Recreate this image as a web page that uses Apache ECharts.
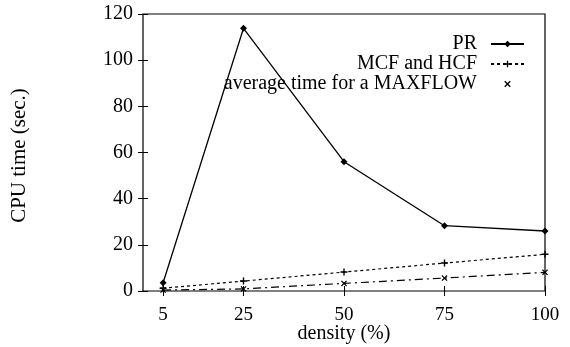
<!DOCTYPE html>
<html>
<head>
<meta charset="utf-8">
<script src="https://cdn.jsdelivr.net/npm/echarts@6/dist/echarts.min.js"></script>
<style>
  html, body { margin: 0; padding: 0; background: #fff; }
  #chart { width: 570px; height: 347px; }
</style>
</head>
<body>
<div id="chart"></div>
<script>
  // density (%) on x, CPU seconds on y
  var density = [5, 25, 50, 75, 100];
  var prTime = [3.6, 113.8, 56, 28.3, 26.0];
  var mcfHcfTime = [1.2, 4.3, 8.2, 12.1, 15.9];
  var maxflowTime = [0.4, 0.9, 3.3, 5.6, 8.1];
  var yTicks = [0, 20, 40, 60, 80, 100, 120];

  var serif = 'Liberation Serif';
  var plusPath = 'path://M4,0h2v10h-2zM0,4h10v2h-10z';
  var crossPath = 'path://M0,1.4L1.4,0L5,3.6L8.6,0L10,1.4L6.4,5L10,8.6L8.6,10L5,6.4L1.4,10L0,8.6L3.6,5z';

  function pairs(ys) {
    return density.map(function (x, i) { return [x, ys[i]]; });
  }

  var chart = echarts.init(document.getElementById('chart'));

  var tickAxis = {
    axisLine: { show: false },
    axisTick: { show: true, inside: true, length: 5, lineStyle: { color: '#000', width: 1 } },
    splitLine: { show: false }
  };

  var option = {
    animation: false,
    backgroundColor: '#fff',
    grid: {
      left: 143, right: 25, top: 14, bottom: 56,
      outerBoundsMode: 'none',
      show: true, borderColor: '#000', borderWidth: 1.2
    },
    legend: {
      orient: 'vertical',
      align: 'right',
      right: 40,
      top: 29,
      itemWidth: 33,
      itemHeight: 8,
      itemGap: 0,
      textStyle: { fontFamily: serif, fontSize: 20, color: '#000', padding: [0, 9, 0, 0] },
      data: [
        { name: 'PR' },
        { name: 'MCF and HCF' },
        { name: 'average time for a MAXFLOW', lineStyle: { opacity: 0 } }
      ]
    },
    xAxis: [
      Object.assign({}, tickAxis, {
        type: 'value', min: 0, max: 100,
        name: 'density (%)', nameLocation: 'middle', nameGap: 33, nameMoveOverlap: false,
        nameTextStyle: { fontFamily: serif, fontSize: 20, color: '#000' },
        axisTick: Object.assign({}, tickAxis.axisTick, { customValues: density }),
        axisLabel: { customValues: density, margin: 15, fontFamily: serif, fontSize: 19, color: '#000' }
      }),
      Object.assign({}, tickAxis, {
        type: 'value', min: 0, max: 100, position: 'top',
        axisTick: Object.assign({}, tickAxis.axisTick, { customValues: density }),
        axisLabel: { show: false }
      })
    ],
    yAxis: [
      Object.assign({}, tickAxis, {
        type: 'value', min: 0, max: 120,
        name: 'CPU time (sec.)', nameLocation: 'middle', nameGap: 113, nameRotate: 90,
        nameMoveOverlap: false,
        nameTextStyle: { fontFamily: serif, fontSize: 21, color: '#000', padding: [0, 6, 0, 0] },
        axisTick: Object.assign({}, tickAxis.axisTick, { customValues: yTicks }),
        axisLabel: { customValues: yTicks, margin: 10, fontFamily: serif, fontSize: 20, color: '#000' }
      }),
      Object.assign({}, tickAxis, {
        type: 'value', min: 0, max: 120, position: 'right',
        axisTick: Object.assign({}, tickAxis.axisTick, { customValues: yTicks }),
        axisLabel: { show: false }
      })
    ],
    series: [
      {
        name: 'PR', type: 'line', data: pairs(prTime),
        symbol: 'diamond', symbolSize: 7,
        itemStyle: { color: '#000' },
        lineStyle: { color: '#000', width: 1.3, type: 'solid' }
      },
      {
        name: 'MCF and HCF', type: 'line', data: pairs(mcfHcfTime),
        symbol: plusPath, symbolSize: 7,
        itemStyle: { color: '#000' },
        lineStyle: { color: '#000', width: 1.2, type: [3, 3] }
      },
      {
        name: 'average time for a MAXFLOW', type: 'line', data: pairs(maxflowTime),
        symbol: crossPath, symbolSize: 6,
        itemStyle: { color: '#000' },
        lineStyle: { color: '#000', width: 1.2, type: [8, 4, 2, 4] }
      }
    ]
  };

  chart.setOption(option);
</script>
</body>
</html>
